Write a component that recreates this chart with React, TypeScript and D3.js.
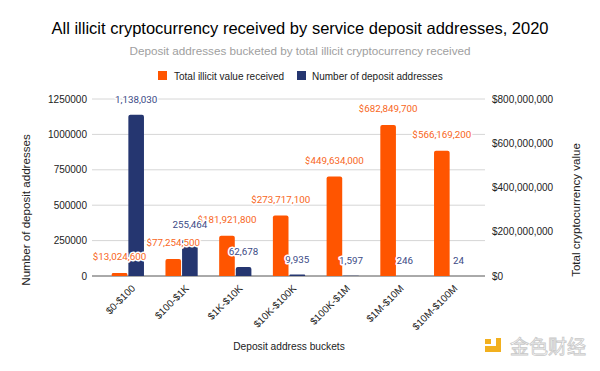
import * as d3 from 'd3';
import React from 'react';

const buckets = ['$0-$100', '$100-$1K', '$1K-$10K', '$10K-$100K', '$100K-$1M', '$1M-$10M', '$10M-$100M'];
const illicitValue = [13024600, 77254500, 181921800, 273717100, 449634000, 682849700, 566169200];
const addressCount = [1138030, 255464, 62678, 9935, 1597, 246, 24];
const leftTicks = [0, 250000, 500000, 750000, 1000000, 1250000];
const rightTicks = [0, 200000000, 400000000, 600000000, 800000000];

const ORANGE = '#ff5500';
const NAVY = '#253670';
const FONT = "'Liberation Sans', Arial, sans-serif";
const LABEL_FONT = "Roboto, 'Liberation Sans', sans-serif";

const W = 600;
const H = 371;
const plotLeft = 92;
const plotRight = 485;
const top = 99;
const bottom = 276;

export default function App() {
  const x = d3.scaleBand().domain(buckets).range([101, 477]).paddingInner(0.4).paddingOuter(0.2);
  const inner = d3.scaleBand().domain(['v', 'n']).range([0, x.bandwidth()]).paddingInner(0.06);
  const yL = d3.scaleLinear().domain([0, 1250000]).range([bottom, top]);
  const yR = d3.scaleLinear().domain([0, 800000000]).range([bottom, top]);
  const fmt = d3.format(',');

  // bar with slightly rounded top corners
  const bar = (x0: number, y0: number, w: number, color: string, key: string) => {
    const h = bottom - y0;
    const r = Math.min(2, h / 2, w / 2);
    const p = `M${x0},${bottom}V${y0 + r}Q${x0},${y0} ${x0 + r},${y0}H${x0 + w - r}Q${x0 + w},${y0} ${x0 + w},${y0 + r}V${bottom}Z`;
    return <path key={key} d={p} fill={color} />;
  };

  return (
    <svg width={W} height={H} style={{ position: 'absolute', left: 0, top: 0, background: '#fff' }} fontFamily={FONT}>
      <rect width={W} height={H} fill="#fff" />
      <text x={300} y={34} textAnchor="middle" fontSize={16.5} fill="#000">
        All illicit cryptocurrency received by service deposit addresses, 2020
      </text>
      <text x={300} y={55} textAnchor="middle" fontSize={11.7} fill="#a0a0a0">
        Deposit addresses bucketed by total illicit cryptocurrency received
      </text>

      {/* legend */}
      <rect x={158} y={71} width={9} height={9} fill={ORANGE} />
      <text x={174} y={79.5} fontSize={10} fill="#222">Total illicit value received</text>
      <rect x={297} y={71} width={9} height={9} fill={NAVY} />
      <text x={312} y={79.5} fontSize={10} fill="#222">Number of deposit addresses</text>

      {/* grid */}
      {leftTicks.map((t) => (
        <line key={'g' + t} x1={plotLeft} x2={plotRight} y1={yL(t)} y2={yL(t)} stroke={t === 0 ? '#555' : '#d6d6d6'} strokeWidth={1} />
      ))}
      {leftTicks.map((t) => (
        <text key={'l' + t} x={87} y={yL(t) + 3.5} textAnchor="end" fontSize={10} fill="#222">{t}</text>
      ))}
      {rightTicks.map((t) => (
        <text key={'r' + t} x={492} y={yR(t) + 3.5} fontSize={10} fill="#222">${fmt(t)}</text>
      ))}

      {/* bars */}
      {buckets.map((b, i) => {
        const x0 = x(b)!;
        return (
          <g key={b}>
            {bar(x0 + inner('v')!, yR(illicitValue[i]), inner.bandwidth(), ORANGE, 'v')}
            {bar(x0 + inner('n')!, yL(addressCount[i]), inner.bandwidth(), NAVY, 'n')}
          </g>
        );
      })}

      {/* data labels */}
      {buckets.map((b, i) => {
        const x0 = x(b)!;
        const cx = x0 + inner('v')! + inner.bandwidth() / 2;
        const cy = Math.min(yR(illicitValue[i]), 272) - 12.5;
        return (
          <text key={'vl' + b} x={cx} y={cy} textAnchor="middle" fontSize={9.8} fill="#f8661c" fontFamily={LABEL_FONT}
            stroke="#fff" strokeWidth={3} paintOrder="stroke" strokeLinejoin="round">
            ${fmt(illicitValue[i])}
          </text>
        );
      })}
      {buckets.map((b, i) => {
        const x0 = x(b)!;
        const cx = x0 + inner('n')! + inner.bandwidth() / 2;
        const cy = Math.min(yL(addressCount[i]), 277) - 12;
        return (
          <text key={'nl' + b} x={cx} y={cy} textAnchor="middle" fontSize={9.8} fill="#3b4a85" fontFamily={LABEL_FONT}
            stroke="#fff" strokeWidth={3} paintOrder="stroke" strokeLinejoin="round">
            {fmt(addressCount[i])}
          </text>
        );
      })}

      {/* x labels */}
      {buckets.map((b) => {
        const cx = x(b)! + x.bandwidth() / 2 + 8;
        return (
          <text key={'x' + b} transform={`translate(${cx},${289}) rotate(-45)`} textAnchor="end" fontSize={10} fill="#222">
            {b}
          </text>
        );
      })}

      <text x={289} y={350} textAnchor="middle" fontSize={10.2} fill="#222">Deposit address buckets</text>
      <text transform={`translate(30,210) rotate(-90)`} textAnchor="middle" fontSize={11.6} fill="#222">
        Number of deposit addresses
      </text>
      <text transform={`translate(580,210) rotate(-90)`} textAnchor="middle" fontSize={11.5} fill="#222">
        Total cryptocurrency value
      </text>

      {/* watermark */}
      <rect x={496} y={338} width={5} height={14} fill="#f2b01e" />
      <rect x={485} y={346} width={16} height={6} fill="#f2b01e" />
      <rect x={485} y={339} width={6} height={5} fill="#f2b01e" />
      <text x={510} y={354} fontSize={19} fill="#fff" stroke="#c8c8c8" strokeWidth={0.8}
        fontFamily="'Noto Sans CJK SC', sans-serif">金色财经</text>
    </svg>
  );
}
